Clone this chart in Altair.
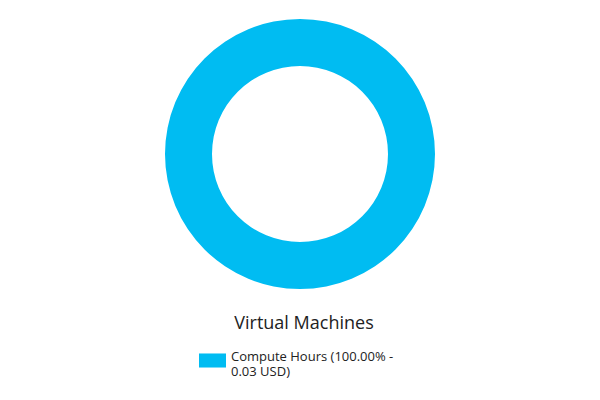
import altair as alt
import pandas as pd

categories = ["Compute Hours"]
values = [0.03]
percents = ["100.00%"]
labels = [f"{c} ({p} -|{v:.2f} USD)" for c, p, v in zip(categories, percents, values)]

df = pd.DataFrame({"category": labels, "value": values})

chart = alt.Chart(df).mark_arc(outerRadius=135, innerRadius=88).encode(
    theta=alt.Theta("value:Q", stack=True),
    color=alt.Color(
        "category:N",
        scale=alt.Scale(range=["#00BCF2"]),
        legend=alt.Legend(
            title=None,
            orient="none",
            legendX=199,
            legendY=347,
            padding=0,
            symbolType="M-1,-0.52H1V0.52H-1Z",
            symbolSize=729,
            symbolStrokeWidth=0,
            symbolOpacity=1,
            labelExpr="split(datum.label, '|')",
            labelFont="Open Sans",
            labelFontSize=13,
            labelBaseline="alphabetic",
            labelColor="#222222",
            labelLimit=400,
            labelOffset=5,
        ),
    ),
).properties(
    width=600,
    height=308,
    autosize=alt.AutoSizeParams(type="pad"),
    padding=0,
    title=alt.TitleParams(
        "Virtual Machines",
        orient="top",
        anchor="middle",
        font="Open Sans",
        fontSize=18,
        fontWeight="normal",
        color="#222222",
        offset=-333,
        dx=4,
    ),
).configure_view(stroke=None)

chart.save("out.html", embed_options={"renderer": "svg", "actions": False})
